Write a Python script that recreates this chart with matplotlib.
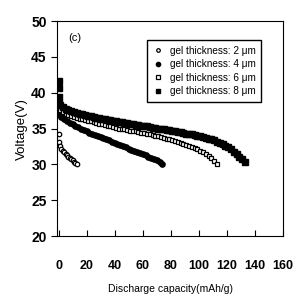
import matplotlib
matplotlib.use('Agg')
import matplotlib.pyplot as plt

plt.rcParams['font.family'] = ['Liberation Sans', 'DejaVu Sans']

# 2 um - open circles
x2 = [0.3, 0.6, 1.0, 2, 3, 4, 5, 6, 7, 8, 9, 10, 11, 12, 13]
y2 = [34.2, 33.2, 32.6, 32.2, 31.9, 31.7, 31.5, 31.3, 31.1, 30.9, 30.8, 30.6, 30.4, 30.2, 30.0]

# 4 um - filled circles
x4 = [0, 1, 2, 4, 6, 8, 10, 12, 14, 16, 18, 20, 22, 24, 26, 28, 30, 32, 34, 36, 38, 40,
      42, 44, 46, 48, 50, 52, 54, 56, 58, 60, 62, 64, 66, 68, 70, 72, 74]
y4 = [37.6, 36.9, 36.6, 36.3, 36.0, 35.8, 35.6, 35.4, 35.2, 35.0, 34.8, 34.6, 34.45, 34.3,
      34.15, 34.0, 33.8, 33.65, 33.5, 33.35, 33.2, 33.0, 32.85, 32.7, 32.55, 32.4, 32.2,
      32.05, 31.9, 31.75, 31.6, 31.4, 31.25, 31.1, 30.9, 30.75, 30.55, 30.35, 30.1]

# 6 um - open squares
x6 = [0, 1, 3, 5, 7, 9, 11, 13, 15, 17, 19, 21, 23, 25, 27, 29, 31, 33, 35, 37, 39, 41,
      43, 45, 47, 49, 51, 53, 55, 57, 59, 61, 63, 65, 67, 69, 71, 73, 75, 77, 79, 81, 83,
      85, 87, 89, 91, 93, 95, 97, 99, 101, 103, 105, 107, 109, 111, 113]
y6 = [38.0, 37.6, 37.3, 37.1, 36.9, 36.75, 36.6, 36.5, 36.4, 36.3, 36.2, 36.1, 36.0, 35.9,
      35.8, 35.7, 35.6, 35.5, 35.4, 35.3, 35.2, 35.1, 35.0, 34.95, 34.9, 34.8, 34.7, 34.65,
      34.6, 34.5, 34.45, 34.4, 34.3, 34.2, 34.1, 34.0, 33.9, 33.8, 33.7, 33.6, 33.5, 33.4,
      33.3, 33.15, 33.0, 32.9, 32.75, 32.6, 32.45, 32.3, 32.1, 31.9, 31.7, 31.45, 31.2,
      30.9, 30.5, 30.1]

# 8 um - filled squares
x8 = [0, 0, 0, 0.5, 1, 3, 5, 7, 9, 11, 13, 15, 17, 19, 21, 23, 25, 27, 29, 31, 33, 35, 37,
      39, 41, 43, 45, 47, 49, 51, 53, 55, 57, 59, 61, 63, 65, 67, 69, 71, 73, 75, 77, 79,
      81, 83, 85, 87, 89, 91, 93, 95, 97, 99, 101, 103, 105, 107, 109, 111, 113, 115, 117,
      119, 121, 123, 125, 127, 129, 131, 133]
y8 = [41.6, 40.6, 39.4, 38.6, 38.3, 38.0, 37.8, 37.6, 37.45, 37.3, 37.2, 37.1, 37.0, 36.9,
      36.8, 36.7, 36.6, 36.5, 36.45, 36.4, 36.3, 36.2, 36.15, 36.1, 36.0, 35.95, 35.9, 35.8,
      35.75, 35.7, 35.6, 35.55, 35.5, 35.4, 35.35, 35.3, 35.2, 35.15, 35.1, 35.0, 34.95,
      34.9, 34.8, 34.75, 34.7, 34.6, 34.55, 34.5, 34.4, 34.3, 34.25, 34.2, 34.1, 34.0,
      33.9, 33.8, 33.7, 33.6, 33.5, 33.35, 33.2, 33.0, 32.8, 32.6, 32.4, 32.1, 31.8, 31.5,
      31.1, 30.7, 30.3]

fig = plt.figure(figsize=(2.96, 2.97), dpi=100)
ax = fig.add_axes([0.193, 0.205, 0.763, 0.724])

ax.plot(x2, y2, 'o', mfc='white', mec='black', ms=3.2, mew=0.9, label='gel thickness: 2 μm')
ax.plot(x4, y4, 'o', color='black', ms=3.8, label='gel thickness: 4 μm')
ax.plot(x6, y6, 's', mfc='white', mec='black', ms=3.2, mew=0.9, label='gel thickness: 6 μm')
ax.plot(x8, y8, 's', color='black', ms=3.8, label='gel thickness: 8 μm')

ax.set_xlim(-1, 160)
ax.set_ylim(20, 50)
ax.set_xticks([0, 20, 40, 60, 80, 100, 120, 140, 160])
ax.set_yticks([20, 25, 30, 35, 40, 45, 50])
ax.tick_params(axis='x', direction='in', length=4, labelsize=9, pad=17)
ax.tick_params(axis='y', direction='out', length=4, labelsize=10)
for lab in ax.get_xticklabels() + ax.get_yticklabels():
    lab.set_fontweight('bold')

ax.set_xlabel('Discharge capacity(mAh/g)', fontsize=7.5, labelpad=9)
ax.set_ylabel('Voltage(V)', fontsize=9.5, labelpad=2)

ax.text(7, 47.2, '(c)', fontsize=8)

leg = ax.legend(loc='upper right', bbox_to_anchor=(0.925, 0.935), fontsize=7.2,
                frameon=True, fancybox=False, edgecolor='black', handletextpad=0.7,
                borderpad=0.55, labelspacing=0.35, handlelength=1.0, markerscale=0.8,
                framealpha=1)

fig.savefig('out.png', dpi=100)
